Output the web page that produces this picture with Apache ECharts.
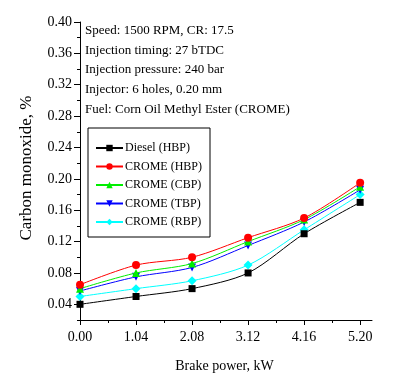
<!DOCTYPE html>
<html><head><meta charset="utf-8">
<script src="https://cdn.jsdelivr.net/npm/echarts@6/dist/echarts.min.js"></script>
<style>html,body{margin:0;padding:0;background:#fff}#c{width:397px;height:382px}</style>
</head><body><div id="c"></div>
<script>
const xValues = [0.00, 1.04, 2.08, 3.12, 4.16, 5.20];
const xMinorTicks = [0.52, 1.56, 2.60, 3.64, 4.68];
const yTicks = [0.04, 0.08, 0.12, 0.16, 0.20, 0.24, 0.28, 0.32, 0.36, 0.40];
const yMinorTicks = [0.02, 0.06, 0.10, 0.14, 0.18, 0.22, 0.26, 0.30, 0.34, 0.38];
const seriesNames = ['Diesel (HBP)', 'CROME (HBP)', 'CROME (CBP)', 'CROME (TBP)', 'CROME (RBP)'];
const dieselHBP = [0.040, 0.050, 0.060, 0.080, 0.130, 0.170];
const cromeHBP  = [0.065, 0.090, 0.100, 0.125, 0.150, 0.195];
const cromeCBP  = [0.060, 0.080, 0.092, 0.120, 0.148, 0.190];
const cromeTBP  = [0.057, 0.075, 0.087, 0.115, 0.145, 0.186];
const cromeRBP  = [0.050, 0.060, 0.070, 0.090, 0.135, 0.180];
const notes = ['Speed: 1500 RPM, CR: 17.5', 'Injection timing: 27 bTDC', 'Injection pressure: 240 bar', 'Injector: 6 holes, 0.20 mm', 'Fuel: Corn Oil Methyl Ester (CROME)'];

const FONT = 'Liberation Serif';
const colors = ['#000000', '#ff0000', '#00ee00', '#0000ff', '#00ffff'];
const symbols = ['rect', 'circle', 'triangle', 'triangle', 'diamond'];
const rotates = [0, 0, 0, 180, 0];
const sizes = [7, 8, 8, 8, 9];
const allData = [dieselHBP, cromeHBP, cromeCBP, cromeTBP, cromeRBP];

const chart = echarts.init(document.getElementById('c'));
const axisLineStyle = {color: '#000', width: 1};
chart.setOption({
  animation: false,
  grid: {left: 80, right: 25, top: 22, bottom: 62},
  xAxis: [{
    type: 'value', min: 0, max: 5.42, interval: 0.52,
    axisLine: {lineStyle: axisLineStyle},
    axisTick: {customValues: xValues, length: 5, lineStyle: axisLineStyle},
    axisLabel: {customValues: xValues, formatter: v => v.toFixed(2), fontFamily: FONT, fontSize: 14, color: '#000', margin: 10},
    splitLine: {show: false}
  }, {
    type: 'value', min: 0, max: 5.42, position: 'bottom',
    axisLine: {show: false},
    axisTick: {customValues: xMinorTicks, length: 3, lineStyle: axisLineStyle},
    axisLabel: {show: false}, splitLine: {show: false}
  }],
  yAxis: [{
    type: 'value', min: 0.02, max: 0.40, interval: 0.02,
    axisLine: {show: true, lineStyle: axisLineStyle},
    axisTick: {customValues: yTicks, length: 6, lineStyle: axisLineStyle},
    axisLabel: {customValues: yTicks, formatter: v => v.toFixed(2), fontFamily: FONT, fontSize: 14, color: '#000', margin: 8},
    splitLine: {show: false}
  }, {
    type: 'value', min: 0.02, max: 0.40, position: 'left',
    axisLine: {show: false},
    axisTick: {customValues: yMinorTicks, length: 3, lineStyle: axisLineStyle},
    axisLabel: {show: false}, splitLine: {show: false}
  }],
  legend: {
    orient: 'vertical', left: 88, top: 128,
    padding: [14, 8, 9, 7],
    borderColor: '#000', borderWidth: 1,
    itemWidth: 27, itemHeight: 8, itemGap: 6.5,
    textStyle: {fontFamily: FONT, fontSize: 12, color: '#000', padding: [0, 0, 0, -3]},
    data: seriesNames
  },
  graphic: notes.map((t, i) => ({
    type: 'text', left: 85, top: 24 + i * 19.7,
    style: {text: t, font: '13px "Liberation Serif"', fill: '#000'}
  })).concat([{
    type: 'text', x: 26.7, y: 168, rotation: Math.PI / 2,
    style: {text: 'Carbon monoxide, %', font: '17px "Liberation Serif"', fill: '#000', align: 'center', verticalAlign: 'middle'}
  }, {
    type: 'text', x: 224.5, y: 366.7,
    style: {text: 'Brake power, kW', font: '14px "Liberation Serif"', fill: '#000', align: 'center', verticalAlign: 'middle'}
  }]),
  series: seriesNames.map((n, i) => ({
    name: n, type: 'line', smooth: 0.3,
    data: xValues.map((x, j) => [x, allData[i][j]]),
    symbol: symbols[i], symbolSize: sizes[i], symbolRotate: rotates[i],
    lineStyle: {color: colors[i], width: 1},
    itemStyle: {color: colors[i]},
    z: 10 - i
  }))
});
</script></body></html>
